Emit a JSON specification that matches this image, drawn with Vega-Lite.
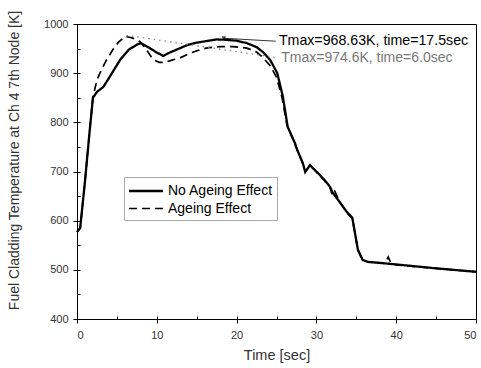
{
  "$schema": "https://vega.github.io/schema/vega-lite/v6.json",
  "width": 399,
  "height": 295,
  "autosize": "none",
  "padding": {"left": 77, "top": 24, "right": 5, "bottom": 49},
  "background": "white",
  "config": {
    "font": "Liberation Sans",
    "view": {"stroke": "black", "strokeWidth": 1},
    "axis": {"grid": false, "domainColor": "black", "tickColor": "black", "labelFont": "Liberation Sans", "titleFont": "Liberation Sans", "labelColor": "#333", "titleColor": "#333", "titleFontWeight": "normal"}
  },
  "datasets": {
    "curves": [
      {"t": 0, "T": 577, "case": "No Ageing Effect"},
      {"t": 0.4, "T": 585, "case": "No Ageing Effect"},
      {"t": 1.0, "T": 680, "case": "No Ageing Effect"},
      {"t": 1.6, "T": 785, "case": "No Ageing Effect"},
      {"t": 2.0, "T": 850, "case": "No Ageing Effect"},
      {"t": 2.5, "T": 862, "case": "No Ageing Effect"},
      {"t": 3.3, "T": 872, "case": "No Ageing Effect"},
      {"t": 4.0, "T": 890, "case": "No Ageing Effect"},
      {"t": 5.4, "T": 927, "case": "No Ageing Effect"},
      {"t": 6.5, "T": 948, "case": "No Ageing Effect"},
      {"t": 7.5, "T": 958, "case": "No Ageing Effect"},
      {"t": 8.0, "T": 961, "case": "No Ageing Effect"},
      {"t": 9.0, "T": 952, "case": "No Ageing Effect"},
      {"t": 10.0, "T": 942, "case": "No Ageing Effect"},
      {"t": 10.8, "T": 935, "case": "No Ageing Effect"},
      {"t": 11.5, "T": 941, "case": "No Ageing Effect"},
      {"t": 12.5, "T": 948, "case": "No Ageing Effect"},
      {"t": 13.8, "T": 957, "case": "No Ageing Effect"},
      {"t": 15.0, "T": 962, "case": "No Ageing Effect"},
      {"t": 16.5, "T": 966, "case": "No Ageing Effect"},
      {"t": 17.5, "T": 968.6, "case": "No Ageing Effect"},
      {"t": 18.5, "T": 968, "case": "No Ageing Effect"},
      {"t": 20.0, "T": 966, "case": "No Ageing Effect"},
      {"t": 21.3, "T": 961, "case": "No Ageing Effect"},
      {"t": 22.5, "T": 953, "case": "No Ageing Effect"},
      {"t": 23.3, "T": 943, "case": "No Ageing Effect"},
      {"t": 24.2, "T": 927, "case": "No Ageing Effect"},
      {"t": 25.1, "T": 900, "case": "No Ageing Effect"},
      {"t": 25.8, "T": 852, "case": "No Ageing Effect"},
      {"t": 26.4, "T": 791, "case": "No Ageing Effect"},
      {"t": 27.3, "T": 758, "case": "No Ageing Effect"},
      {"t": 27.6, "T": 744, "case": "No Ageing Effect"},
      {"t": 28.3, "T": 717, "case": "No Ageing Effect"},
      {"t": 28.6, "T": 699, "case": "No Ageing Effect"},
      {"t": 29.2, "T": 713, "case": "No Ageing Effect"},
      {"t": 30.0, "T": 700, "case": "No Ageing Effect"},
      {"t": 31.0, "T": 683, "case": "No Ageing Effect"},
      {"t": 31.7, "T": 669, "case": "No Ageing Effect"},
      {"t": 32.0, "T": 658, "case": "No Ageing Effect"},
      {"t": 33.0, "T": 636, "case": "No Ageing Effect"},
      {"t": 33.8, "T": 618, "case": "No Ageing Effect"},
      {"t": 34.5, "T": 606, "case": "No Ageing Effect"},
      {"t": 35.2, "T": 541, "case": "No Ageing Effect"},
      {"t": 35.8, "T": 520, "case": "No Ageing Effect"},
      {"t": 36.5, "T": 516, "case": "No Ageing Effect"},
      {"t": 38.0, "T": 514, "case": "No Ageing Effect"},
      {"t": 40.0, "T": 511, "case": "No Ageing Effect"},
      {"t": 45.0, "T": 503, "case": "No Ageing Effect"},
      {"t": 50.0, "T": 496, "case": "No Ageing Effect"},
      {"t": 0, "T": 577, "case": "Ageing Effect"},
      {"t": 0.4, "T": 585, "case": "Ageing Effect"},
      {"t": 1.0, "T": 680, "case": "Ageing Effect"},
      {"t": 1.6, "T": 785, "case": "Ageing Effect"},
      {"t": 2.0, "T": 852, "case": "Ageing Effect"},
      {"t": 2.5, "T": 886, "case": "Ageing Effect"},
      {"t": 3.0, "T": 905, "case": "Ageing Effect"},
      {"t": 3.7, "T": 927, "case": "Ageing Effect"},
      {"t": 4.5, "T": 948, "case": "Ageing Effect"},
      {"t": 5.2, "T": 963, "case": "Ageing Effect"},
      {"t": 6.0, "T": 974.6, "case": "Ageing Effect"},
      {"t": 6.6, "T": 973, "case": "Ageing Effect"},
      {"t": 7.2, "T": 970, "case": "Ageing Effect"},
      {"t": 7.9, "T": 964, "case": "Ageing Effect"},
      {"t": 8.7, "T": 948, "case": "Ageing Effect"},
      {"t": 9.5, "T": 928, "case": "Ageing Effect"},
      {"t": 10.3, "T": 922, "case": "Ageing Effect"},
      {"t": 11.0, "T": 922, "case": "Ageing Effect"},
      {"t": 12.0, "T": 927, "case": "Ageing Effect"},
      {"t": 12.9, "T": 931, "case": "Ageing Effect"},
      {"t": 14.2, "T": 941, "case": "Ageing Effect"},
      {"t": 15.5, "T": 948, "case": "Ageing Effect"},
      {"t": 16.5, "T": 952, "case": "Ageing Effect"},
      {"t": 18.0, "T": 954, "case": "Ageing Effect"},
      {"t": 19.5, "T": 954, "case": "Ageing Effect"},
      {"t": 21.3, "T": 951, "case": "Ageing Effect"},
      {"t": 22.5, "T": 943, "case": "Ageing Effect"},
      {"t": 23.3, "T": 932, "case": "Ageing Effect"},
      {"t": 24.2, "T": 915, "case": "Ageing Effect"},
      {"t": 25.0, "T": 892, "case": "Ageing Effect"},
      {"t": 25.7, "T": 850, "case": "Ageing Effect"},
      {"t": 26.3, "T": 795, "case": "Ageing Effect"},
      {"t": 27.2, "T": 760, "case": "Ageing Effect"},
      {"t": 27.6, "T": 744, "case": "Ageing Effect"},
      {"t": 28.3, "T": 716, "case": "Ageing Effect"},
      {"t": 28.6, "T": 700, "case": "Ageing Effect"},
      {"t": 29.2, "T": 712, "case": "Ageing Effect"},
      {"t": 30.0, "T": 699, "case": "Ageing Effect"},
      {"t": 31.0, "T": 682, "case": "Ageing Effect"},
      {"t": 31.7, "T": 668, "case": "Ageing Effect"},
      {"t": 32.0, "T": 652, "case": "Ageing Effect"},
      {"t": 32.3, "T": 660, "case": "Ageing Effect"},
      {"t": 33.0, "T": 636, "case": "Ageing Effect"},
      {"t": 33.8, "T": 617, "case": "Ageing Effect"},
      {"t": 34.5, "T": 604, "case": "Ageing Effect"},
      {"t": 35.2, "T": 540, "case": "Ageing Effect"},
      {"t": 35.8, "T": 519, "case": "Ageing Effect"},
      {"t": 36.5, "T": 516, "case": "Ageing Effect"},
      {"t": 38.0, "T": 514, "case": "Ageing Effect"},
      {"t": 38.6, "T": 513, "case": "Ageing Effect"},
      {"t": 39.0, "T": 526, "case": "Ageing Effect"},
      {"t": 39.4, "T": 512, "case": "Ageing Effect"},
      {"t": 40.0, "T": 510, "case": "Ageing Effect"},
      {"t": 45.0, "T": 503, "case": "Ageing Effect"},
      {"t": 50.0, "T": 496, "case": "Ageing Effect"}
    ],
    "lead1": [
      {"t": 18.4, "T": 971},
      {"t": 24.9, "T": 965}
    ],
    "lead2": [
      {"t": 6.2, "T": 977},
      {"t": 25.3, "T": 931}
    ],
    "labels": [
      {"t": 25.3, "T": 965, "text": "Tmax=968.63K, time=17.5sec", "kind": "a"},
      {"t": 25.6, "T": 931, "text": "Tmax=974.6K, time=6.0sec", "kind": "b"}
    ]
  },
  "resolve": {"axis": {"x": "independent", "y": "independent"}},
  "layer": [
    {
      "data": {"name": "curves"},
      "mark": {"type": "line", "color": "black", "interpolate": "linear"},
      "encoding": {
        "x": {"field": "t", "type": "quantitative", "scale": {"domain": [0, 50], "nice": false},
          "axis": {"orient": "bottom", "values": [0, 10, 20, 30, 40, 50], "format": "d", "title": "Time [sec]", "titleFontSize": 14.5, "titleY": 36, "titleBaseline": "middle", "labelFontSize": 11, "tickSize": 4, "labelPadding": 6}},
        "y": {"field": "T", "type": "quantitative", "scale": {"domain": [400, 1000], "nice": false, "zero": false},
          "axis": {"orient": "left", "values": [400, 500, 600, 700, 800, 900, 1000], "format": "d", "title": "Fuel Cladding Temperature at Ch 4 7th Node [K]", "titleFontSize": 14, "titleX": -63, "titleY": 136, "titleAlign": "center", "titleBaseline": "middle", "labelFontSize": 11, "tickSize": 4, "labelPadding": 5}},
        "strokeDash": {"field": "case", "type": "nominal",
          "scale": {"domain": ["No Ageing Effect", "Ageing Effect"], "range": [[1, 0], [8, 5]]},
          "legend": {"title": null, "orient": "none", "legendX": 47, "legendY": 153, "padding": 4, "strokeColor": "#aaa", "fillColor": "white", "symbolType": "M-2,0H2", "symbolSize": 290, "symbolOffset": 8, "symbolStrokeColor": "black", "labelFont": "Liberation Sans", "labelFontSize": 14, "labelColor": "black", "rowPadding": 1, "labelOffset": 12}},
        "strokeWidth": {"field": "case", "type": "nominal",
          "scale": {"domain": ["No Ageing Effect", "Ageing Effect"], "range": [2.3, 1.7]}, "legend": {"title": null}}
      }
    },
    {
      "data": {"name": "lead2"},
      "mark": {"type": "line", "color": "#888", "strokeDash": [1.5, 4], "strokeWidth": 1.3},
      "encoding": {
        "x": {"field": "t", "type": "quantitative",
          "axis": {"orient": "bottom", "values": [0, 5, 10, 15, 20, 25, 30, 35, 40, 45, 50], "labels": false, "domain": false, "title": null, "tickSize": -3}},
        "y": {"field": "T", "type": "quantitative",
          "axis": {"orient": "left", "values": [400, 450, 500, 550, 600, 650, 700, 750, 800, 850, 900, 950, 1000], "labels": false, "domain": false, "title": null, "tickSize": -3}}
      }
    },
    {
      "data": {"name": "lead1"},
      "mark": {"type": "line", "color": "black", "strokeWidth": 0.8},
      "encoding": {
        "x": {"field": "t", "type": "quantitative", "axis": null},
        "y": {"field": "T", "type": "quantitative", "axis": null}
      }
    },
    {
      "data": {"name": "lead1"},
      "transform": [{"filter": "datum.t < 20"}],
      "mark": {"type": "point", "shape": "triangle-down", "filled": true, "color": "black", "size": 22},
      "encoding": {
        "x": {"field": "t", "type": "quantitative", "axis": null},
        "y": {"field": "T", "type": "quantitative", "axis": null}
      }
    },
    {
      "data": {"name": "labels"},
      "mark": {"type": "text", "align": "left", "baseline": "middle", "font": "Liberation Sans"},
      "encoding": {
        "x": {"field": "t", "type": "quantitative", "axis": null},
        "y": {"field": "T", "type": "quantitative", "axis": null},
        "text": {"field": "text"},
        "color": {"field": "kind", "type": "nominal", "scale": {"domain": ["a", "b"], "range": ["black", "#777"]}, "legend": null},
        "size": {"field": "kind", "type": "nominal", "scale": {"domain": ["a", "b"], "range": [14.2, 14]}, "legend": null}
      }
    }
  ]
}
